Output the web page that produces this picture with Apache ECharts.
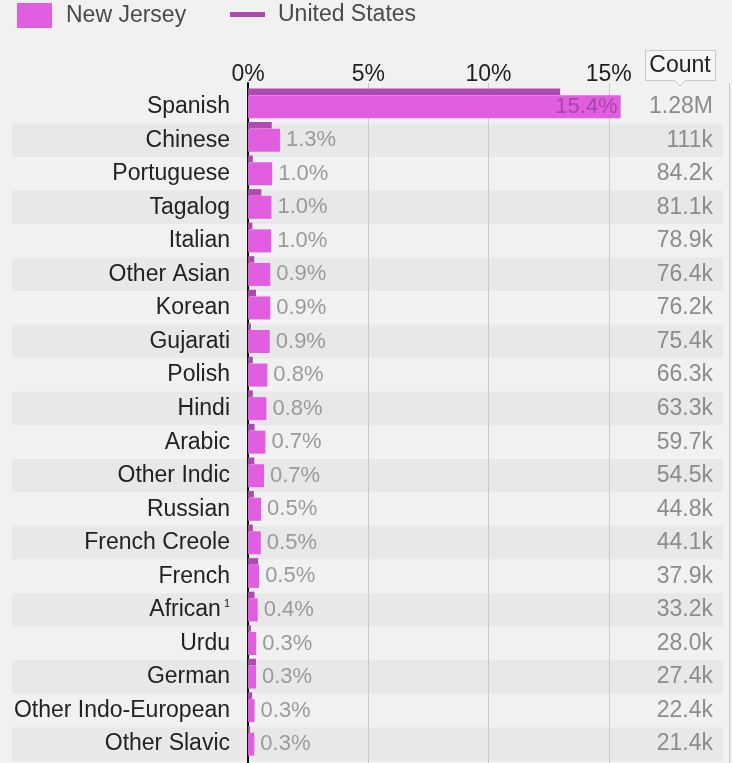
<!DOCTYPE html>
<html>
<head>
<meta charset="utf-8">
<title>Languages spoken at home - New Jersey</title>
<script src="https://cdn.jsdelivr.net/npm/echarts@6/dist/echarts.min.js"></script>
<style>
  html, body { margin: 0; padding: 0; background: #f1f1f1; }
  #chart { width: 732px; height: 763px; }
</style>
</head>
<body>
<div id="chart"></div>
<script>
// data
var languages = ['Spanish', 'Chinese', 'Portuguese', 'Tagalog', 'Italian', 'Other Asian', 'Korean',
  'Gujarati', 'Polish', 'Hindi', 'Arabic', 'Other Indic', 'Russian', 'French Creole', 'French',
  'African', 'Urdu', 'German', 'Other Indo-European', 'Other Slavic'];
// share of population, New Jersey (%)
var njPct = [15.4, 1.32, 1.0, 0.97, 0.96, 0.92, 0.92, 0.9, 0.8, 0.76, 0.72, 0.66, 0.54, 0.53, 0.46,
  0.4, 0.34, 0.33, 0.27, 0.26];
// share of population, United States (%)
var usPct = [12.9, 0.98, 0.2, 0.55, 0.18, 0.26, 0.33, 0.12, 0.2, 0.2, 0.27, 0.26, 0.24, 0.2, 0.42,
  0.27, 0.12, 0.33, 0.17, 0.08];
// speakers in New Jersey
var counts = [1280000, 111000, 84200, 81100, 78900, 76400, 76200, 75400, 66300, 63300, 59700, 54500,
  44800, 44100, 37900, 33200, 28000, 27400, 22400, 21400];
var pctTicks = [0, 5, 10, 15];

var FONT = '"Liberation Sans", Arial, sans-serif';
var NJ_COLOR = '#e15ee1';
var US_COLOR = '#b04ab0';

function fmtCount(v) {
  if (v >= 1e6) return (v / 1e6).toFixed(2) + 'M';
  if (v >= 1e5) return Math.round(v / 1e3) + 'k';
  return (v / 1e3).toFixed(1) + 'k';
}

var chart = echarts.init(document.getElementById('chart'));

var rowTop = 89.9, rowsHeight = 671;

var option = {
  backgroundColor: '#f1f1f1',
  animation: false,
  textStyle: { fontFamily: FONT },
  legend: [{
    data: [{ name: 'New Jersey', icon: 'rect' }],
    left: 17, top: 3, padding: 0,
    itemWidth: 35, itemHeight: 25,
    selectedMode: false,
    textStyle: { fontSize: 23, color: '#4a4a4a', padding: [5, 0, 0, 9] }
  }, {
    data: [{ name: 'United States', icon: 'rect' }],
    left: 230, top: 3, padding: 0,
    itemWidth: 35, itemHeight: 5,
    selectedMode: false,
    textStyle: { fontSize: 23, color: '#4a4a4a', padding: [3, 0, 0, 8] }
  }],
  grid: [
    { left: 12, right: 9, top: rowTop, height: rowsHeight },      // row bands + counts
    { left: 248, width: 490, top: 83, bottom: 0 },                 // axis + gridlines
    { left: 248, width: 490, top: rowTop - 15, height: rowsHeight }, // US marks
    { left: 248, width: 490, top: rowTop, height: rowsHeight }     // NJ bars
  ],
  xAxis: [
    { gridIndex: 0, type: 'value', show: false },
    {
      gridIndex: 1, type: 'value', min: 0, max: 20, interval: 5, position: 'top',
      axisLine: { show: false }, axisTick: { show: false },
      splitLine: { lineStyle: { color: '#c9c9c9', width: 1 } },
      axisLabel: {
        fontSize: 23, color: '#222', margin: -3,
        formatter: function (v) { return pctTicks.indexOf(v) >= 0 ? v + '%' : ''; }
      }
    },
    { gridIndex: 2, type: 'value', min: 0, max: 20, show: false },
    { gridIndex: 3, type: 'value', min: 0, max: 20, show: false }
  ],
  yAxis: [
    {
      gridIndex: 0, type: 'category', data: languages, inverse: true, position: 'right',
      axisLine: { show: false }, axisTick: { show: false, interval: 0 },
      splitArea: { show: true, interval: 0, areaStyle: { color: ['#f1f1f1', '#e8e8e8'] } },
      axisLabel: {
        inside: true, interval: 0, margin: 10, fontSize: 23, color: '#8c8c8c',
        formatter: function (v, i) { return fmtCount(counts[i]); }
      }
    },
    {
      gridIndex: 1, type: 'value', min: 0, max: 1,
      axisLine: { show: true, lineStyle: { color: '#111', width: 2 } },
      axisTick: { show: false }, axisLabel: { show: false }, splitLine: { show: false }
    },
    { gridIndex: 2, type: 'category', data: languages, inverse: true, show: false },
    {
      gridIndex: 3, type: 'category', data: languages, inverse: true,
      axisLine: { show: false }, axisTick: { show: false },
      axisLabel: {
        interval: 0, margin: 18, fontSize: 23, color: '#222',
        formatter: function (v) { return v === 'African' ? v + '{sup|1}' : v; },
        rich: { sup: { fontSize: 11, color: '#222', verticalAlign: 'top', padding: [0, 0, 12, 3] } }
      }
    }
  ],
  series: [
    {
      name: 'United States', type: 'bar', xAxisIndex: 2, yAxisIndex: 2,
      barWidth: 6.5, data: usPct, itemStyle: { color: US_COLOR }, z: 3
    },
    {
      name: 'New Jersey', type: 'bar', xAxisIndex: 3, yAxisIndex: 3,
      barWidth: 23, itemStyle: { color: NJ_COLOR }, z: 2,
      data: njPct.map(function (v, i) {
        if (i === 0) {
          return { value: v, label: { position: 'insideRight', distance: 3, color: '#a447a4' } };
        }
        return v;
      }),
      label: {
        show: true, position: 'right', distance: 6, fontSize: 22, color: '#9a9a9a',
        formatter: function (p) { return p.value.toFixed(1) + '%'; }
      }
    }
  ],
  graphic: [
    {
      type: 'rect', left: 645, top: 50, z: 10,
      shape: { width: 70, height: 30 },
      style: { fill: '#f6f6f6', stroke: '#c8c8c8', lineWidth: 1 }
    },
    {
      type: 'polygon', z: 11,
      shape: { points: [[674, 80], [686, 80], [680, 86]] },
      style: { fill: '#f6f6f6', stroke: null }
    },
    {
      type: 'polyline', z: 11,
      shape: { points: [[674, 80], [680, 86], [686, 80]] },
      style: { stroke: '#c8c8c8', lineWidth: 1, fill: null }
    },
    {
      type: 'text', z: 12, x: 680, y: 66,
      style: { text: 'Count', font: '23px ' + FONT, fill: '#222', align: 'center', verticalAlign: 'middle' }
    }
  ]
};

chart.setOption(option);
</script>
</body>
</html>
